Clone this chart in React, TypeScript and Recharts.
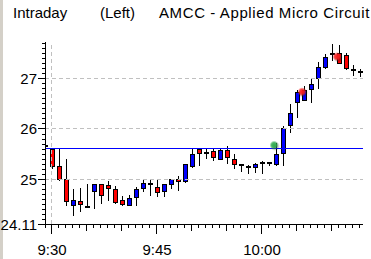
import { ComposedChart, Bar, Scatter, XAxis, YAxis, ReferenceLine } from 'recharts';

// one-minute candles, 9:29 .. 10:14
const times = [
    '9:29', '9:30', '9:31', '9:32', '9:33', '9:34', '9:35', '9:36', '9:37', '9:38', '9:39',
    '9:40', '9:41', '9:42', '9:43', '9:44', '9:45', '9:46', '9:47', '9:48', '9:49',
    '9:50', '9:51', '9:52', '9:53', '9:54', '9:55', '9:56', '9:57', '9:58', '9:59',
    '10:00', '10:01', '10:02', '10:03', '10:04', '10:05', '10:06', '10:07', '10:08', '10:09',
    '10:10', '10:11', '10:12', '10:13', '10:14',
];
const open = [
    25.67, 25.61, 25.26, 25.01, 24.49, 24.56, 24.44, 24.76, 24.9, 24.88, 24.8,
    24.59, 24.49, 24.64, 24.82, 24.9, 24.84, 24.77, 24.91, 25.01, 24.97,
    25.26, 25.61, 25.53, 25.57, 25.41, 25.59, 25.41, 25.28, 25.25, 25.24,
    25.33, 25.3, 25.3, 25.53, 26.08, 26.54, 26.58, 26.8, 27.01, 27.23,
    27.5, 27.51, 27.47, 27.18, 27.14,
];
const high = [
    25.85, 25.61, 25.61, 25.4, 24.8, 24.82, 24.9, 24.9, 24.9, 24.97, 24.86,
    24.67, 24.69, 24.84, 25.0, 25.0, 25.0, 24.9, 25.01, 25.07, 25.3,
    25.63, 25.63, 25.63, 25.63, 25.63, 25.66, 25.5, 25.31, 25.28, 25.32,
    25.36, 25.34, 25.73, 26.06, 26.49, 26.78, 26.86, 27.01, 27.33, 27.5,
    27.69, 27.67, 27.52, 27.28, 27.19,
];
const low = [
    25.33, 25.21, 24.97, 24.47, 24.26, 24.35, 24.42, 24.4, 24.5, 24.57, 24.51,
    24.47, 24.47, 24.47, 24.74, 24.67, 24.65, 24.65, 24.8, 24.77, 24.93,
    25.23, 25.26, 25.4, 25.36, 25.38, 25.3, 25.21, 25.14, 25.1, 25.13,
    25.1, 25.26, 25.26, 25.26, 25.92, 26.22, 26.55, 26.52, 26.8, 27.19,
    27.36, 27.29, 27.18, 27.05, 27.03,
];
const close = [
    25.67, 25.26, 25.0, 24.56, 24.59, 24.5, 24.44, 24.9, 24.69, 24.82, 24.54,
    24.5, 24.62, 24.8, 24.92, 24.9, 24.75, 24.9, 25.01, 24.97, 25.3,
    25.51, 25.53, 25.53, 25.44, 25.59, 25.45, 25.3, 25.28, 25.25, 25.3,
    25.33, 25.32, 25.51, 26.02, 26.32, 26.74, 26.78, 26.9, 27.23, 27.43,
    27.5, 27.31, 27.22, 27.18, 27.14,
];

const refPrice = 25.61;
const gridPrices = [25, 26, 27];
const yLabels = [24.11, 25, 26, 27];
const xLabels = ['9:30', '9:45', '10:00'];

const markerTimes = ['10:02', '10:06', '10:11'];
const markerPrices = [25.68, 26.74, 27.44];
const markerColors = ['#30b050', '#ff2020', '#ff2020'];

const FONT = '"Liberation Sans", Arial, sans-serif';

const toMin = (s: string) => {
    const [h, m] = s.split(':').map(Number);
    return h * 60 + m - (9 * 60 + 30);
};

const candles = times.map((t, i) => ({
    t: toMin(t),
    open: open[i],
    high: high[i],
    low: low[i],
    close: close[i],
}));

const markers = markerTimes.map((t, i) => ({ t: toMin(t), price: markerPrices[i], color: markerColors[i] }));

const xTicks = times.map(toMin);
const yTicks = [24.11];
for (let k = 242; k <= 277; k++) yTicks.push(k / 10);

const Candle = (props: any) => {
    const { x, y, width, height, payload } = props;
    if (height == null || !payload) return null;
    const cx = Math.round(x + width / 2) + 0.5;
    const k = height / (payload.high - payload.low);
    const yOf = (p: number) => y + (payload.high - p) * k;
    const top = Math.round(yOf(Math.max(payload.open, payload.close)));
    const bottom = Math.round(yOf(Math.min(payload.open, payload.close)));
    const up = payload.close > payload.open;
    return (
        <g shapeRendering="crispEdges">
            <line x1={cx} x2={cx} y1={Math.round(yOf(payload.high))} y2={Math.round(yOf(payload.low))} stroke="#000" />
            {bottom - top < 2 ? (
                <rect x={cx - 2.5} y={top - 1} width={5} height={2} fill="#000" />
            ) : (
                <rect
                    x={cx - 2}
                    y={top + 0.5}
                    width={4}
                    height={bottom - top}
                    fill={up ? '#0000ff' : '#ff0000'}
                    stroke="#000"
                />
            )}
        </g>
    );
};

// blurred signal dot with a soft dark shadow
const Glint = ({ cx, cy, payload }: any) => {
    const id = `glint-${payload.t}`;
    return (
        <g>
            <defs>
                <radialGradient id={id}>
                    <stop offset="0%" stopColor={payload.color} stopOpacity={1} />
                    <stop offset="55%" stopColor={payload.color} stopOpacity={0.8} />
                    <stop offset="100%" stopColor={payload.color} stopOpacity={0} />
                </radialGradient>
                <radialGradient id={`${id}-s`}>
                    <stop offset="0%" stopColor="#202020" stopOpacity={0.7} />
                    <stop offset="100%" stopColor="#202020" stopOpacity={0} />
                </radialGradient>
            </defs>
            <circle cx={cx - 1} cy={cy + 1} r={5} fill={`url(#${id}-s)`} />
            <circle cx={cx - 2} cy={cy} r={4.5} fill={`url(#${id})`} />
        </g>
    );
};

const XTick = ({ x, y, payload }: any) => {
    const m = payload.value;
    const len = m % 15 === 0 ? 10 : m % 5 === 0 ? 7 : 4;
    const label = xLabels.find((l) => toMin(l) === m);
    return (
        <g>
            <line x1={x} x2={x} y1={y} y2={y + len} stroke="#000" shapeRendering="crispEdges" />
            {label && (
                <text x={x} y={y + 31} textAnchor="middle" fontFamily={FONT} fontSize={15} fill="#000">
                    {label}
                </text>
            )}
        </g>
    );
};

const YTick = ({ x, y, payload }: any) => {
    const v = payload.value;
    const isLabel = yLabels.includes(v);
    return (
        <g>
            <line x1={x - (isLabel ? 7 : 3)} x2={x} y1={y} y2={y} stroke="#000" shapeRendering="crispEdges" />
            {isLabel && (
                <text x={x - 8} y={y + 5.5} textAnchor="end" fontFamily={FONT} fontSize={15} fill="#000">
                    {v}
                </text>
            )}
        </g>
    );
};

export default function App() {
    return (
        <div
            style={{
                position: 'absolute',
                left: 0,
                top: 0,
                width: 371,
                height: 259,
                background: '#fff',
                overflow: 'hidden',
                fontFamily: FONT,
            }}
        >
            <div style={{ position: 'absolute', left: 0, top: 0, width: 3, height: 259, background: '#d4d0c8' }} />
            <div style={{ position: 'absolute', top: 5, left: 0, width: 371, fontSize: 15, lineHeight: '15px', whiteSpace: 'nowrap', color: '#000' }}>
                <span style={{ position: 'absolute', left: 13 }}>Intraday</span>
                <span style={{ position: 'absolute', left: 100 }}>(Left)</span>
                <span style={{ position: 'absolute', left: 159, letterSpacing: 0.6 }}>AMCC - Applied Micro Circuit</span>
            </div>
            <ComposedChart
                width={371}
                height={259}
                data={candles}
                margin={{ top: 42, right: 8, bottom: 0, left: 0 }}
                style={{ position: 'absolute', left: 0, top: 0 }}
            >
                <XAxis
                    dataKey="t"
                    type="number"
                    domain={[-1, 44.43]}
                    allowDataOverflow
                    ticks={xTicks}
                    interval={0}
                    height={35}
                    tickSize={0}
                    tickMargin={0}
                    tickLine={false}
                    axisLine={{ stroke: '#000', shapeRendering: 'crispEdges' }}
                    tick={<XTick />}
                />
                <YAxis
                    type="number"
                    domain={[24.11, 27.73]}
                    allowDataOverflow
                    ticks={yTicks}
                    interval={0}
                    width={45}
                    tickSize={0}
                    tickMargin={0}
                    tickLine={false}
                    axisLine={{ stroke: '#000', shapeRendering: 'crispEdges' }}
                    tick={<YTick />}
                />
                {gridPrices.map((p) => (
                    <ReferenceLine key={p} y={p} stroke="#c0c0c0" strokeDasharray="4 3" shapeRendering="crispEdges" />
                ))}
                <ReferenceLine x={0} stroke="#c0c0c0" strokeDasharray="4 3" shapeRendering="crispEdges" />
                <ReferenceLine y={refPrice} stroke="#0000ff" shapeRendering="crispEdges" />
                <Bar
                    dataKey={(d: any) => [d.low, d.high]}
                    barSize={5}
                    shape={<Candle />}
                    isAnimationActive={false}
                />
                <Scatter data={markers} dataKey="price" shape={<Glint />} isAnimationActive={false} />
            </ComposedChart>
        </div>
    );
}
